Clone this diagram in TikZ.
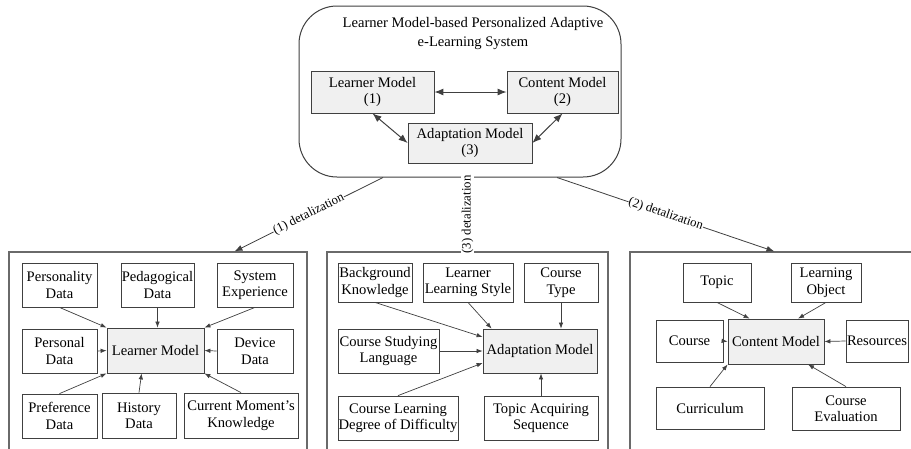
\documentclass[tikz,border=0pt]{standalone}
\usepackage{fontspec}
\setmainfont{Liberation Serif}
\newfontfamily\timesfont{Liberation Serif}
\usetikzlibrary{arrows.meta,calc}
\definecolor{linec}{HTML}{404040}
\definecolor{panelc}{HTML}{6A6A6A}
\definecolor{greyfill}{HTML}{F0F0F0}
\begin{document}
\begin{tikzpicture}[x=1pt,y=-1pt,
  box/.style={draw=linec, line width=0.8pt, align=center, inner sep=0.5pt, fill=white,
    font=\timesfont\fontsize{14.6}{16.5}\selectfont},
  core/.style={box, fill=greyfill},
  panel/.style={draw=panelc, line width=1.1pt},
  arr/.style={draw=linec, line width=0.7pt, -{Latex[length=6pt,width=4.5pt]}},
  darr/.style={draw=linec, line width=1pt, {Latex[length=9pt,width=7pt]}-{Latex[length=9pt,width=7pt]}},
  det/.style={draw=linec, line width=0.8pt, -{Latex[length=8pt,width=6pt]}},
  lab/.style={fill=white, inner sep=0.3pt, font=\timesfont\fontsize{12.8}{14}\selectfont}
]
\useasboundingbox (0,0) rectangle (911,448);
\fill[white] (0,0) rectangle (911,448);
\clip (0,0) rectangle (911,448);

% top system box
\node[draw=linec, line width=1pt, rounded corners=38, minimum width=322, minimum height=171] (tbox) at (460,91.5) {};
\node[align=center, font=\timesfont\fontsize{14.6}{19}\selectfont] (title) at (473,34) {Learner Model-based Personalized Adaptive\\e-Learning System};
\node[core, minimum width=123, minimum height=42] (lm1) at (372.5,92) {Learner Model\\(1)};
\node[core, minimum width=111, minimum height=42] (cm2) at (562.5,92) {Content Model\\(2)};
\node[core, minimum width=124, minimum height=40] (am3) at (470,143) {Adaptation Model\\(3)};
\draw[darr] (lm1.east) -- (cm2.west);
\draw[darr] (lm1.south) -- (am3.west);
\draw[darr] (cm2.south) -- (am3.east);

% panels
\node[panel, minimum width=298, minimum height=230] (lp) at (158,367) {};
\node[panel, minimum width=281, minimum height=230] (mp) at (467.5,367) {};
\node[panel, minimum width=310, minimum height=230] (rp) at (785,367) {};

% detalization connectors
\draw[det] ($(tbox.south)+(-77,0)$) -- node[lab, sloped] {(1) detalization} ($(lp.north west)+(226,0)$);
\draw[det] (mp.north |- tbox.south) -- node[lab, rotate=90] {(3) detalization} (mp.north);
\draw[det] ($(tbox.south)+(97,0)$) -- node[lab, sloped] {(2) detalization} ($(rp.north west)+(145,0)$);

% left panel: learner model
\node[box, minimum width=75, minimum height=44] (pers) at (59.5,285) {Personality\\Data};
\node[box, minimum width=73, minimum height=44] (peda) at (157.5,285) {Pedagogical\\Data};
\node[box, minimum width=76, minimum height=44] (sysx) at (255,285) {System\\Experience};
\node[box, minimum width=75, minimum height=44] (persl) at (59.5,351) {Personal\\Data};
\node[core, minimum width=97, minimum height=45] (lm) at (155.5,350.5) {Learner Model};
\node[box, minimum width=76, minimum height=44] (dev) at (255,351) {Device\\Data};
\node[box, minimum width=75, minimum height=44] (pref) at (59.5,416) {Preference\\Data};
\node[box, minimum width=74, minimum height=45] (hist) at (139,415.5) {History\\Data};
\node[box, minimum width=114, minimum height=45] (cur) at (241,415.5) {Current Moment’s\\Knowledge};
\draw[arr] (pers.south) -- (lm.north west);
\draw[arr] (peda.south) -- (peda.south |- lm.north);
\draw[arr] (sysx.south) -- (lm.north east);
\draw[arr] (persl.east) -- (lm.west);
\draw[arr] (dev.west) -- (lm.east);
\draw[arr] (pref.north) -- (lm.south west);
\draw[arr] (hist.north) -- ($(lm.south west)+(35,0)$);
\draw[arr] (cur.north) -- (lm.south east);

% middle panel: adaptation model
\node[box, minimum width=74, minimum height=39] (bk) at (375,282.5) {Background\\Knowledge};
\node[box, minimum width=90, minimum height=39] (lls) at (468,282.5) {Learner\\Learning Style};
\node[box, minimum width=74, minimum height=39] (ct) at (561,282.5) {Course\\Type};
\node[box, minimum width=101, minimum height=44] (csl) at (388.5,351) {Course Studying\\Language};
\node[core, minimum width=114, minimum height=44] (am) at (540,351) {Adaptation Model};
\node[box, minimum width=120, minimum height=44] (cldd) at (398,418) {Course Learning\\Degree of Difficulty};
\node[box, minimum width=114, minimum height=44] (tas) at (541,418) {Topic Acquiring\\Sequence};
\draw[arr] (bk.south) -- ($(am.west)+(0,-14)$);
\draw[arr] (lls.south) -- ($(am.north west)+(9,0)$);
\draw[arr] (ct.south) -- (ct.south |- am.north);
\draw[arr] (csl.east) -- (am.west);
\draw[arr] (cldd.north) -- ($(am.west)+(0,12)$);
\draw[arr] (tas.north) -- (tas.north |- am.south);

% right panel: content model
\node[box, minimum width=68, minimum height=39] (topic) at (717,282.5) {Topic};
\node[box, minimum width=70, minimum height=39] (lo) at (826,282.5) {Learning\\Object};
\node[box, minimum width=67, minimum height=42] (course) at (689.5,341) {Course};
\node[core, minimum width=96, minimum height=45] (cm) at (776,341.5) {Content Model};
\node[box, minimum width=62, minimum height=42] (res) at (877,341) {Resources};
\node[box, minimum width=108, minimum height=42] (curr) at (710,408) {Curriculum};
\node[box, minimum width=108, minimum height=43] (ce) at (846,408.5) {Course\\Evaluation};
\draw[arr] (topic.south) -- ($(cm.north west)+(22,0)$);
\draw[arr] (lo.south) -- ($(cm.north)+(22,0)$);
\draw[arr] (course.east) -- (cm.west);
\draw[arr] (res.west) -- (cm.east);
\draw[arr] (curr.north) -- (cm.south west);
\draw[arr] (ce.north) -- ($(cm.south)+(32,0)$);
\end{tikzpicture}
\end{document}
